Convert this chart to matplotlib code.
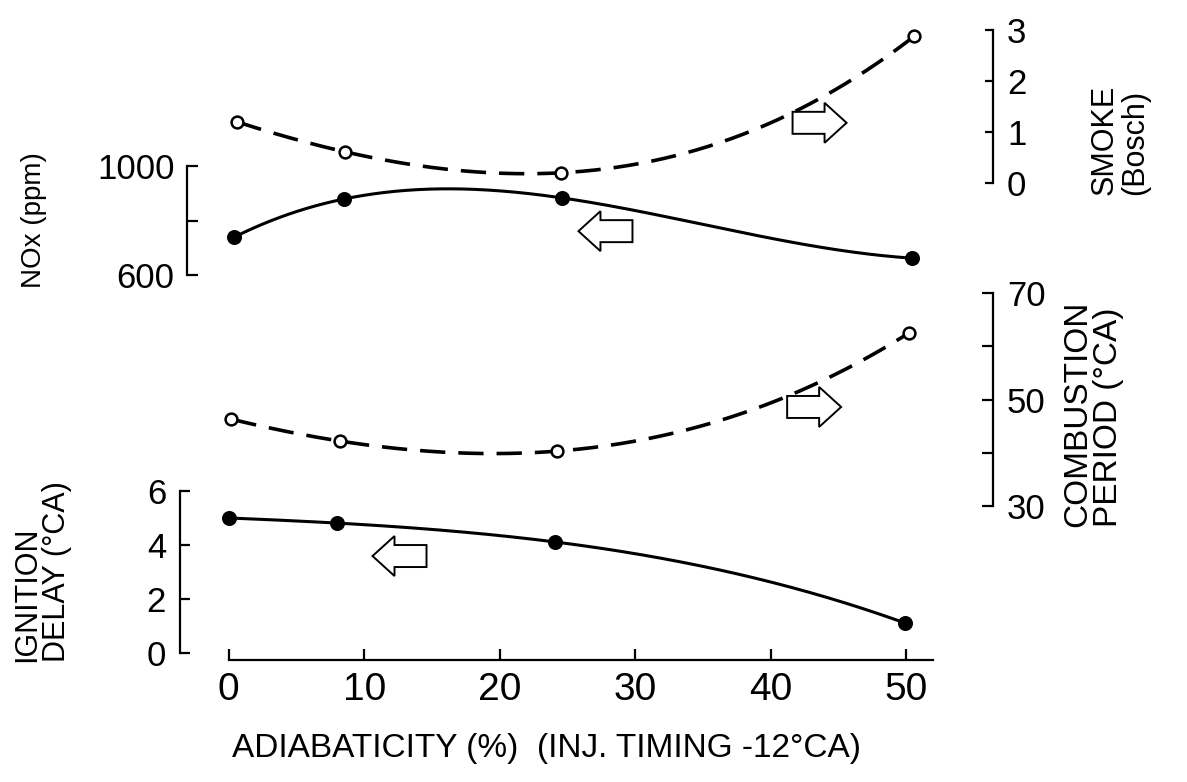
import numpy as np
import matplotlib
matplotlib.use("Agg")
import matplotlib.pyplot as plt
import matplotlib.transforms as mtransforms
from matplotlib.patches import Polygon

plt.rcParams['font.family'] = ['Liberation Sans', 'DejaVu Sans']

# values
adiab_nox = [0.4, 8.5, 24.6, 50.4]
nox = [739, 879, 883, 662]
adiab_smoke = [0.6, 8.6, 24.5, 50.6]
smoke = [1.20, 0.61, 0.20, 2.88]
adiab_comb = [0.2, 8.2, 24.2, 50.2]
comb = [46.3, 42.2, 40.3, 62.5]
adiab_ign = [0.0, 8.0, 24.1, 49.9]
ign = [5.0, 4.81, 4.11, 1.11]

x_ticks = [0, 10, 20, 30, 40, 50]
nox_ticks = [600, 800, 1000]
nox_labels = ['600', '', '1000']
smoke_ticks = [0, 1, 2, 3]
comb_ticks = [30, 40, 50, 60, 70]
comb_labels = ['30', '', '50', '', '70']
ign_ticks = [0, 2, 4, 6]

W, H = 1187, 782
fig = plt.figure(figsize=(W / 100, H / 100), dpi=100)
fig.patch.set_facecolor('white')

# common plotting box (pixels)
L, R, T, B = 180, 993, 20, 660
rect = [L / W, 1 - B / H, (R - L) / W, (B - T) / H]

ax_ign = fig.add_axes(rect)
ax_nox = fig.add_axes(rect, sharex=ax_ign)
ax_smoke = fig.add_axes(rect, sharex=ax_ign)
ax_comb = fig.add_axes(rect, sharex=ax_ign)

ax_ign.set_xlim(-3.6, 56.4)
ax_ign.set_ylim(-0.26, 23.44)
ax_nox.set_ylim(-813, 1536)
ax_smoke.set_ylim(-9.353, 3.196)
ax_comb.set_ylim(1.08, 121.27)

for ax in (ax_ign, ax_nox, ax_smoke, ax_comb):
    ax.patch.set_visible(False)
    for s in ax.spines.values():
        s.set_visible(False)
        s.set_linewidth(1.6)
    ax.tick_params(width=1.6, labelsize=25, direction='in')

for ax in (ax_nox, ax_smoke, ax_comb):
    ax.xaxis.set_visible(False)

# x axis
ax_ign.spines['bottom'].set_visible(True)
ax_ign.spines['bottom'].set_bounds(0, 52)
ax_ign.set_xticks(x_ticks)
ax_ign.tick_params(axis='x', length=8, pad=9, labelsize=28)

# left axes
ax_ign.spines['left'].set_visible(True)
ax_ign.spines['left'].set_bounds(0, 6)
ax_ign.set_yticks(ign_ticks)
ax_ign.tick_params(axis='y', length=7, pad=10)

ax_nox.spines['left'].set_visible(True)
ax_nox.spines['left'].set_position(('axes', 7 / (R - L)))
ax_nox.spines['left'].set_bounds(600, 1000)
ax_nox.set_yticks(nox_ticks)
ax_nox.set_yticklabels(nox_labels)
ax_nox.tick_params(axis='y', length=8, pad=9)

# right axes
ax_smoke.spines['right'].set_visible(True)
ax_smoke.spines['right'].set_bounds(0, 3)
ax_smoke.yaxis.set_ticks_position('right')
ax_smoke.set_yticks(smoke_ticks)
ax_smoke.tick_params(axis='y', length=6, pad=10)

ax_comb.spines['right'].set_visible(True)
ax_comb.spines['right'].set_bounds(30, 70)
ax_comb.yaxis.set_ticks_position('right')
ax_comb.set_yticks(comb_ticks)
ax_comb.set_yticklabels(comb_labels)
ax_comb.tick_params(axis='y', length=8, pad=10)


def smooth(ax, x, y, filled, dashed):
    xs = np.linspace(min(x), max(x), 300)
    ys = np.polyval(np.polyfit(x, y, 3), xs)
    if dashed:
        ax.plot(xs, ys, color='black', lw=2.6, dashes=(7, 3.6))
    else:
        ax.plot(xs, ys, color='black', lw=2.2)
    ax.plot(x, y, 'o', ms=9 if filled else 8.5,
            mfc='black' if filled else 'white', mec='black', mew=1.8,
            zorder=5)


smooth(ax_nox, adiab_nox, nox, True, False)
smooth(ax_smoke, adiab_smoke, smoke, False, True)
smooth(ax_comb, adiab_comb, comb, False, True)
smooth(ax_ign, adiab_ign, ign, True, False)


def block_arrow(ax, x, y, right=True):
    # outline arrow, sizes in inches around an anchor in data coords
    ln, hl, bw, hw = 0.54, 0.22, 0.22, 0.40
    pts = np.array([
        [-ln / 2, -bw / 2], [ln / 2 - hl, -bw / 2], [ln / 2 - hl, -hw / 2],
        [ln / 2, 0], [ln / 2 - hl, hw / 2], [ln / 2 - hl, bw / 2],
        [-ln / 2, bw / 2]])
    if not right:
        pts[:, 0] *= -1
    tr = fig.dpi_scale_trans + mtransforms.ScaledTranslation(x, y, ax.transData)
    ax.add_patch(Polygon(pts, closed=True, fill=False, ec='black', lw=1.4,
                         transform=tr))


block_arrow(ax_smoke, 43.6, 1.18, right=True)
block_arrow(ax_nox, 27.8, 761, right=False)
block_arrow(ax_comb, 43.2, 48.6, right=True)
block_arrow(ax_ign, 12.6, 3.59, right=False)

# axis titles
fig.text(34 / W, 1 - 220 / H, 'NOx (ppm)', rotation=90, fontsize=20,
         ha='center', va='center')
fig.text(42 / W, 1 - 662 / H, 'IGNITION\nDELAY (°CA)', rotation=90,
         fontsize=22, ha='center', va='bottom', multialignment='left',
         linespacing=1.0)
fig.text(1120 / W, 1 - 195 / H, 'SMOKE\n(Bosch)', rotation=90, fontsize=22,
         ha='center', va='bottom', multialignment='left', linespacing=1.0)
fig.text(1093 / W, 1 - 527 / H, 'COMBUSTION\nPERIOD (°CA)', rotation=90,
         fontsize=24, ha='center', va='bottom', multialignment='left',
         linespacing=1.0)
fig.text(232 / W, 1 - 749 / H, 'ADIABATICITY (%)  (INJ. TIMING -12°CA)',
         fontsize=24, ha='left', va='center')

fig.savefig('out.png', dpi=100, facecolor='white')
